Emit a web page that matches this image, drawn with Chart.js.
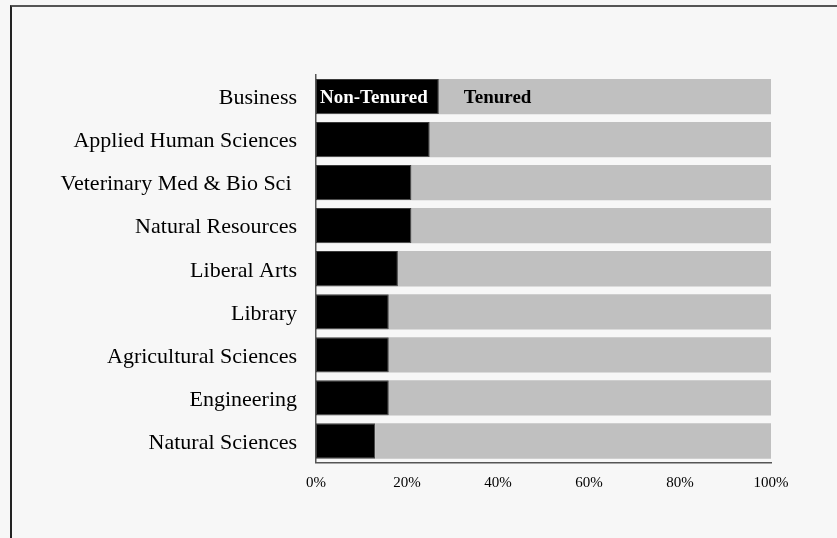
<!DOCTYPE html>
<html>
<head>
<meta charset="utf-8">
<script src="https://cdn.jsdelivr.net/npm/chart.js@4.4.1/dist/chart.umd.min.js"></script>
<style>
    html, body { margin: 0; padding: 0; background: #f7f7f7; }
    #wrap { position: relative; width: 837px; height: 538px; overflow: hidden; }
    #frame { position: absolute; left: 10px; top: 5px; width: 900px; height: 600px;
             border-left: 2px solid #222; border-top: 2px solid #555; }
    canvas { position: absolute; left: 0; top: 0; }
</style>
</head>
<body>
<div id="wrap">
    <div id="frame"></div>
    <canvas id="barChart" width="837" height="538"></canvas>
</div>
<script>
    var categories = ['Business', 'Applied Human Sciences', 'Veterinary Med & Bio Sci ', 'Natural Resources',
        'Liberal Arts', 'Library', 'Agricultural Sciences', 'Engineering', 'Natural Sciences'];
    var nonTenured = [27, 25, 21, 21, 18, 16, 16, 16, 13];
    var tenured = [73, 75, 79, 79, 82, 84, 84, 84, 87];
    var xTicks = [0, 20, 40, 60, 80, 100];
    var seriesNames = ['Non-Tenured', 'Tenured'];

    // etiquetas dentro de la primera barra (hacen de leyenda)
    var inBarLabels = {
        id: 'inBarLabels',
        afterDatasetsDraw: function (chart) {
            var ctx = chart.ctx;
            var first = chart.getDatasetMeta(0).data[0];
            var second = chart.getDatasetMeta(1).data[0];
            ctx.save();
            ctx.font = 'bold 19px "Liberation Serif"';
            ctx.textBaseline = 'middle';
            ctx.textAlign = 'left';
            ctx.fillStyle = '#ffffff';
            ctx.fillText(seriesNames[0], first.base + 4, first.y + 2);
            ctx.fillStyle = '#000000';
            ctx.fillText(seriesNames[1], second.base + 25, second.y + 2);
            ctx.restore();
        }
    };

    var ctxBar = document.getElementById('barChart').getContext('2d');
    var barChart = new Chart(ctxBar, {
        type: 'bar',
        data: {
            labels: categories,
            datasets: [
                { label: seriesNames[0], data: nonTenured, backgroundColor: '#000000',
                  borderColor: '#3a3a3a', borderWidth: 1, borderSkipped: false },
                { label: seriesNames[1], data: tenured, backgroundColor: '#c0c0c0',
                  borderColor: '#c0c0c0', borderWidth: 0 }
            ]
        },
        options: {
            indexAxis: 'y',
            responsive: false,
            animation: false,
            events: [],
            barPercentage: 0.82,
            categoryPercentage: 1,
            layout: { padding: { left: 0, right: 66, top: 75, bottom: 0 } },
            plugins: { legend: { display: false }, tooltip: { enabled: false } },
            scales: {
                x: {
                    stacked: true,
                    min: 0,
                    max: 100,
                    afterBuildTicks: function (scale) {
                        scale.ticks = xTicks.map(function (v) { return { value: v }; });
                    },
                    grid: { display: false, drawTicks: false },
                    border: { display: true, color: '#555555', width: 1.5 },
                    ticks: {
                        padding: 12,
                        color: '#000000',
                        font: { family: 'Liberation Serif', size: 15 },
                        callback: function (v) { return v + '%'; }
                    },
                    afterFit: function (scale) { scale.height = 75.5; }
                },
                y: {
                    stacked: true,
                    grid: { display: false, drawTicks: false },
                    border: { display: true, color: '#555555', width: 1.5 },
                    ticks: {
                        padding: 19,
                        labelOffset: 2,
                        color: '#000000',
                        font: { family: 'Liberation Serif', size: 22 }
                    },
                    afterFit: function (scale) { scale.width = 316; }
                }
            }
        },
        plugins: [inBarLabels]
    });
</script>
</body>
</html>
